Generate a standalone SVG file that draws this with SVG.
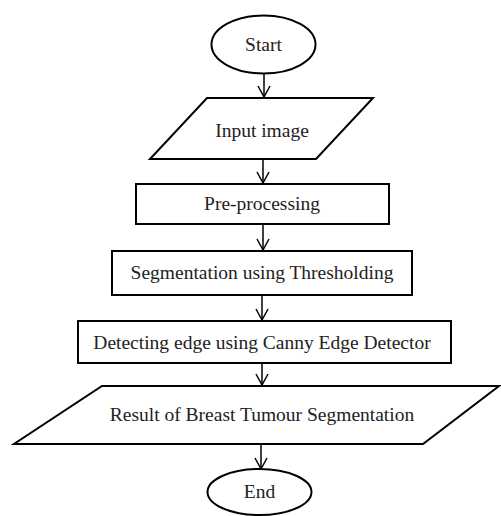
<svg xmlns="http://www.w3.org/2000/svg" width="501" height="516" viewBox="0 0 501 516">
<defs>
<style>
.s{fill:#fff;stroke:#000;stroke-width:2}
.t{font-family:"Liberation Serif","Times New Roman",serif;font-size:19.5px;fill:#222;text-anchor:middle}
.c{stroke:#000;stroke-width:1.5;fill:none}
</style>
<marker id="a" markerWidth="14" markerHeight="14" refX="12" refY="7" orient="auto" markerUnits="userSpaceOnUse">
<path d="M1,1 L12,7 L1,13" fill="none" stroke="#000" stroke-width="1.5"/>
</marker>
</defs>
<rect width="501" height="516" fill="#fff"/>
<g id="connectors">
<line class="c" x1="264" y1="74" x2="264" y2="97" marker-end="url(#a)"/>
<line class="c" x1="263" y1="159" x2="263" y2="183" marker-end="url(#a)"/>
<line class="c" x1="263" y1="224" x2="263" y2="250" marker-end="url(#a)"/>
<line class="c" x1="262" y1="295" x2="262" y2="320" marker-end="url(#a)"/>
<line class="c" x1="262" y1="363" x2="262" y2="385" marker-end="url(#a)"/>
<line class="c" x1="261" y1="444" x2="261" y2="469" marker-end="url(#a)"/>
</g>
<g id="start">
<ellipse class="s" cx="263.5" cy="44.5" rx="52" ry="29"/>
<text class="t" x="263.5" y="51">Start</text>
</g>
<g id="input">
<polygon class="s" points="207,98 373,98 316,159 150,159"/>
<text class="t" x="262" y="137">Input image</text>
</g>
<g id="preprocessing">
<rect class="s" x="136" y="184" width="253" height="40"/>
<text class="t" x="262" y="210">Pre-processing</text>
</g>
<g id="segmentation">
<rect class="s" x="112" y="251" width="300" height="44"/>
<text class="t" x="262" y="279">Segmentation using Thresholding</text>
</g>
<g id="edge">
<rect class="s" x="78" y="321" width="373" height="42"/>
<text class="t" x="262" y="349">Detecting edge using Canny Edge Detector</text>
</g>
<g id="result">
<polygon class="s" points="102,386 499,386 423,444 14,444"/>
<text class="t" x="262" y="421">Result of Breast Tumour Segmentation</text>
</g>
<g id="end">
<ellipse class="s" cx="259.5" cy="492" rx="52" ry="23"/>
<text class="t" x="259.5" y="498">End</text>
</g>
</svg>
